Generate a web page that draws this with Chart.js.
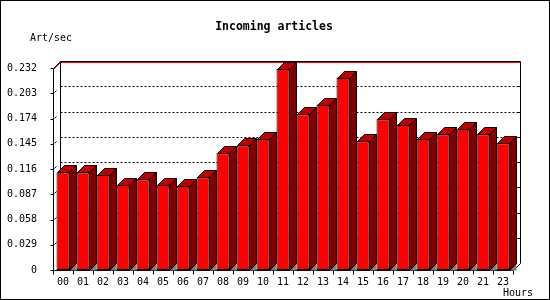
<!DOCTYPE html>
<html>
<head>
<meta charset="utf-8">
<script src="https://cdn.jsdelivr.net/npm/chart.js@4/dist/chart.umd.min.js"></script>
<style>
  body { margin: 0; background: #fff; }
  #wrap { width: 550px; height: 300px; position: relative; }
</style>
</head>
<body>
<div id="wrap"><canvas id="myChart"></canvas></div>
<script>
// hours shown on the x axis (22 is missing in the original)
var hours = ["00", "01", "02", "03", "04", "05", "06", "07", "08", "09", "10", "11",
             "12", "13", "14", "15", "16", "17", "18", "19", "20", "21", "23"];
// articles per second
var artPerSec = [0.112, 0.112, 0.109, 0.098, 0.104, 0.098, 0.0965, 0.1065, 0.134, 0.143, 0.151, 0.231,
                 0.179, 0.190, 0.221, 0.148, 0.173, 0.167, 0.151, 0.156, 0.162, 0.156, 0.1455];
var yTicks = [0, 0.029, 0.058, 0.087, 0.116, 0.145, 0.174, 0.203, 0.232];
var yMax = 0.232;

var DEPTH = 7;
var MONO = "'DejaVu Sans Mono', 'Liberation Mono', monospace";

function line(ctx, x1, y1, x2, y2) {
    ctx.beginPath();
    ctx.moveTo(x1, y1);
    ctx.lineTo(x2, y2);
    ctx.stroke();
}

function poly(ctx, pts, fill) {
    ctx.beginPath();
    ctx.moveTo(pts[0][0], pts[0][1]);
    for (var i = 1; i < pts.length; i++) ctx.lineTo(pts[i][0], pts[i][1]);
    ctx.closePath();
    ctx.fillStyle = fill;
    ctx.fill();
}

// back wall, grid and axes drawn behind the bars
var backPlane = {
    id: "backPlane",
    beforeDatasetsDraw: function (chart) {
        var ctx = chart.ctx;
        var a = chart.chartArea;
        var ys = chart.scales.y;
        var L = Math.round(a.left) + 0.5, R = Math.round(a.right) + 0.5;
        var T = Math.round(a.top) + 0.5, B = Math.round(a.bottom) + 0.5;
        ctx.save();
        ctx.lineWidth = 1;

        // dotted grid lines on the back wall
        ctx.strokeStyle = "#000";
        ctx.setLineDash([2, 2]);
        yTicks.forEach(function (v) {
            if (v === 0 || v === yMax) return;
            var y = Math.round(ys.getPixelForValue(v)) - DEPTH + 0.5;
            line(ctx, L + DEPTH, y, R + DEPTH, y);
        });
        ctx.setLineDash([]);

        // max line in red
        var yM = Math.round(ys.getPixelForValue(yMax)) + 1.5;
        ctx.strokeStyle = "#ff0000";
        ctx.beginPath();
        ctx.moveTo(L, yM);
        ctx.lineTo(L + DEPTH, yM - DEPTH);
        ctx.lineTo(R + DEPTH, yM - DEPTH);
        ctx.stroke();

        // frame
        ctx.strokeStyle = "#000";
        ctx.beginPath();
        ctx.moveTo(L, B);
        ctx.lineTo(L, T);
        ctx.lineTo(L + DEPTH, T - DEPTH);
        ctx.lineTo(R + DEPTH, T - DEPTH);
        ctx.lineTo(R + DEPTH, B - DEPTH);
        ctx.lineTo(R, B);
        ctx.lineTo(L, B);
        ctx.stroke();
        line(ctx, L + DEPTH, T - DEPTH, L + DEPTH, B - DEPTH);

        // y ticks: left of axis, on the wall, and on the right side
        yTicks.forEach(function (v) {
            var y = Math.round(ys.getPixelForValue(v)) + 0.5;
            line(ctx, L - 3, y, L, y);
            if (v !== 0 && v !== yMax) {
                line(ctx, L + 1, y - 1, L + 3, y - 3);
                line(ctx, R + DEPTH - 3, y - DEPTH, R + DEPTH, y - DEPTH);
            }
        });

        // x ticks at category borders
        var step = (a.right - a.left) / hours.length;
        for (var k = 0; k <= hours.length; k++) {
            var x = Math.round(a.left + k * step) + 0.5;
            line(ctx, x, B, x, B + 4);
        }
        ctx.restore();
    },
    afterDatasetsDraw: function (chart) {
        var ctx = chart.ctx;
        var meta = chart.getDatasetMeta(0);
        ctx.save();
        ctx.lineWidth = 1;
        ctx.strokeStyle = "#000";
        meta.data.forEach(function (bar) {
            var p = bar.getProps(["x", "y", "base", "width"], true);
            var l = Math.round(p.x - p.width / 2) + 0.5;
            var r = Math.round(p.x + p.width / 2) - 0.5;
            var t = Math.round(p.y) + 0.5;
            var b = Math.round(p.base) + 0.5;
            // floor shadow
            poly(ctx, [[r, b], [r + DEPTH, b - DEPTH], [r + DEPTH, b]], "#808080");
            // side face
            poly(ctx, [[r, t], [r + DEPTH, t - DEPTH], [r + DEPTH, b - DEPTH], [r, b]], "#800000");
            ctx.stroke();
            // top face
            poly(ctx, [[l, t], [l + DEPTH, t - DEPTH], [r + DEPTH, t - DEPTH], [r, t]], "#c00000");
            ctx.stroke();
        });
        ctx.restore();
    },
    afterDraw: function (chart) {
        var ctx = chart.ctx;
        ctx.save();
        ctx.strokeStyle = "#000";
        ctx.lineWidth = 1;
        ctx.strokeRect(0.5, 0.5, 549, 299);
        ctx.fillStyle = "#000";
        ctx.textBaseline = "alphabetic";
        ctx.font = "bold 11.5px " + MONO;
        ctx.textAlign = "center";
        ctx.fillText("Incoming articles", 274, 30);
        ctx.font = "10px " + MONO;
        ctx.textAlign = "left";
        ctx.fillText("Art/sec", 30, 41);
        ctx.fillText("Hours", 503, 296);
        ctx.restore();
    }
};

var myChart = document.getElementById("myChart").getContext("2d");
var chart = new Chart(myChart, {
    type: "bar",
    data: {
        labels: hours,
        datasets: [
            {
                label: "Art/sec",
                backgroundColor: "#ff0000",
                borderColor: "#000",
                borderWidth: 1,
                borderSkipped: false,
                categoryPercentage: 1,
                barPercentage: 0.65,
                data: artPerSec,
            },
        ],
    },
    options: {
        responsive: true,
        maintainAspectRatio: false,
        animation: false,
        layout: { padding: { top: 68, right: 37, left: 0, bottom: 0 } },
        plugins: {
            legend: { display: false },
            tooltip: { enabled: false },
            title: { display: false },
        },
        scales: {
            x: {
                grid: { display: false },
                border: { display: false },
                ticks: {
                    color: "#000",
                    font: { family: MONO, size: 10 },
                    padding: -2,
                    maxRotation: 0,
                    autoSkip: false,
                },
                afterFit: function (scale) { scale.height = 30; },
            },
            y: {
                min: 0,
                max: yMax,
                grid: { display: false },
                border: { display: false },
                afterBuildTicks: function (scale) {
                    scale.ticks = yTicks.map(function (v) { return { value: v }; });
                },
                ticks: {
                    color: "#000",
                    font: { family: MONO, size: 10 },
                    padding: 8,
                    callback: function (v) { return v === 0 ? "0" : v.toFixed(3); },
                },
                afterFit: function (scale) { scale.width = 53; },
            },
        },
    },
    plugins: [backPlane],
});
</script>
</body>
</html>
